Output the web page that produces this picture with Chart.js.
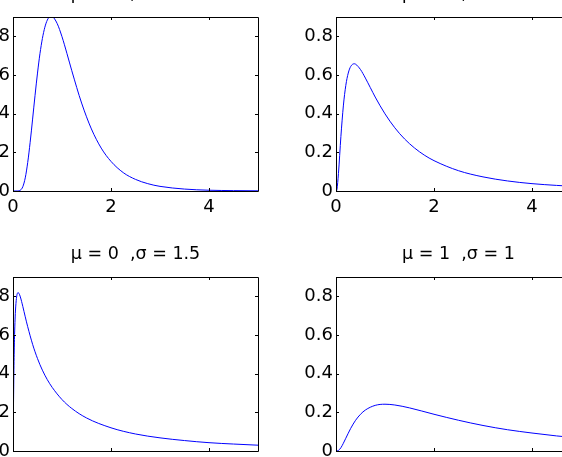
<!DOCTYPE html>
<html>
<head>
<meta charset="utf-8">
<script src="https://cdn.jsdelivr.net/npm/chart.js@4.4.1/dist/chart.umd.min.js"></script>
<style>
    html, body { margin: 0; padding: 0; width: 562px; height: 457px; overflow: hidden; background: #fff; }
    canvas { position: absolute; }
</style>
</head>
<body>
<canvas id="c1" width="365" height="249" style="left:-47px; top:-23px"></canvas>
<canvas id="c2" width="365" height="249" style="left:276px; top:-23px"></canvas>
<canvas id="c3" width="365" height="249" style="left:-47px; top:237px"></canvas>
<canvas id="c4" width="365" height="249" style="left:276px; top:237px"></canvas>
<script>
// lognormal pdf curves
var titles = ["\u03bc = 0  ,\u03c3 = 0.5", "\u03bc = 0  ,\u03c3 = 1", "\u03bc = 0  ,\u03c3 = 1.5", "\u03bc = 1  ,\u03c3 = 1"];

var x1 = [0, 0.1, 0.15, 0.2, 0.25, 0.3, 0.35, 0.4, 0.45, 0.5, 0.55, 0.6, 0.65, 0.7, 0.75, 0.78, 0.8, 0.9, 1.0, 1.1, 1.2, 1.4, 1.6, 1.8, 2.0, 2.25, 2.5, 2.75, 3.0, 3.5, 4.0, 4.5, 5.0];
var y1 = [0, 0.0002, 0.004, 0.022, 0.068, 0.147, 0.252, 0.372, 0.495, 0.610, 0.710, 0.789, 0.847, 0.884, 0.902, 0.904, 0.903, 0.867, 0.798, 0.712, 0.622, 0.455, 0.321, 0.222, 0.153, 0.095, 0.060, 0.038, 0.024, 0.010, 0.004, 0.002, 0.001];

var x2 = [0, 0.01, 0.02, 0.05, 0.1, 0.15, 0.2, 0.25, 0.3, 0.37, 0.4, 0.5, 0.6, 0.7, 0.8, 1.0, 1.2, 1.4, 1.6, 1.8, 2.0, 2.5, 3.0, 3.5, 4.0, 4.5, 5.0];
var y2 = [0, 0.001, 0.009, 0.090, 0.282, 0.440, 0.546, 0.610, 0.644, 0.658, 0.656, 0.628, 0.584, 0.535, 0.486, 0.399, 0.327, 0.269, 0.223, 0.186, 0.157, 0.105, 0.073, 0.052, 0.038, 0.029, 0.022];

var x3 = [0.01, 0.02, 0.03, 0.04, 0.05, 0.07, 0.1, 0.12, 0.15, 0.2, 0.25, 0.3, 0.4, 0.5, 0.6, 0.7, 0.8, 1.0, 1.2, 1.5, 2.0, 2.5, 3.0, 3.5, 4.0, 4.5, 5.0];
var y3 = [0.239, 0.443, 0.577, 0.665, 0.724, 0.789, 0.819, 0.816, 0.797, 0.748, 0.694, 0.643, 0.552, 0.478, 0.418, 0.369, 0.329, 0.266, 0.220, 0.171, 0.120, 0.088, 0.068, 0.054, 0.043, 0.036, 0.030];

var x4 = [0, 0.05, 0.1, 0.15, 0.2, 0.3, 0.4, 0.5, 0.6, 0.8, 1.0, 1.2, 1.5, 2.0, 2.5, 3.0, 3.5, 4.0, 4.5, 5.0];
var y4 = [0, 0.003, 0.017, 0.040, 0.066, 0.117, 0.159, 0.190, 0.212, 0.236, 0.242, 0.238, 0.223, 0.190, 0.159, 0.132, 0.110, 0.093, 0.078, 0.066];

var xTicks = [0, 2, 4];
var yTicks = [0, 0.2, 0.4, 0.6, 0.8];

var font = "'DejaVu Sans', 'Liberation Sans', Arial, sans-serif";

// matlab style box with inward ticks
var boxPlugin = {
    id: "box",
    afterDraw: function (chart) {
        var c = chart.ctx;
        var a = chart.chartArea;
        var sx = chart.scales.x, sy = chart.scales.y;
        c.save();
        c.strokeStyle = "#000";
        c.lineWidth = 1;
        c.beginPath();
        c.rect(a.left + 0.5, a.top + 0.5, a.right - a.left, a.bottom - a.top);
        xTicks.forEach(function (v) {
            var px = Math.round(sx.getPixelForValue(v)) + 0.5;
            c.moveTo(px, a.bottom); c.lineTo(px, a.bottom - 3);
            c.moveTo(px, a.top); c.lineTo(px, a.top + 3);
        });
        yTicks.forEach(function (v) {
            var py = Math.round(sy.getPixelForValue(v)) + 0.5;
            c.moveTo(a.left, py); c.lineTo(a.left + 3, py);
            c.moveTo(a.right, py); c.lineTo(a.right - 3, py);
        });
        c.stroke();
        c.restore();
    },
};

function tickLabel(v) {
    return String(Math.round(v * 10) / 10);
}

function makeChart(id, title, xs, ys) {
    var pts = xs.map(function (x, i) { return { x: x, y: ys[i] }; });
    return new Chart(document.getElementById(id).getContext("2d"), {
        type: "line",
        data: {
            datasets: [
                {
                    data: pts,
                    borderColor: "#0000ff",
                    borderWidth: 1,
                    pointRadius: 0,
                    fill: false,
                    cubicInterpolationMode: "monotone",
                },
            ],
        },
        options: {
            responsive: false,
            animation: false,
            devicePixelRatio: 1,
            layout: { padding: { top: 7, right: 60, left: 0, bottom: 0 } },
            plugins: {
                legend: { display: false },
                tooltip: { enabled: false },
                title: {
                    display: true,
                    fullSize: false,
                    text: title,
                    color: "#000",
                    font: { family: font, size: 17.5, weight: "normal", lineHeight: 1.2 },
                    padding: { top: 0, bottom: 12 },
                },
            },
            scales: {
                x: {
                    type: "linear",
                    min: 0,
                    max: 5,
                    grid: { display: false, drawTicks: false },
                    border: { display: false },
                    afterBuildTicks: function (s) { s.ticks = xTicks.map(function (v) { return { value: v }; }); },
                    afterFit: function (s) { s.height = 35; },
                    ticks: { color: "#000", padding: 6, maxRotation: 0, font: { family: font, size: 18 }, callback: tickLabel },
                },
                y: {
                    min: 0,
                    max: 0.9,
                    grid: { display: false, drawTicks: false },
                    border: { display: false },
                    afterBuildTicks: function (s) { s.ticks = yTicks.map(function (v) { return { value: v }; }); },
                    afterFit: function (s) { s.width = 60; },
                    ticks: { color: "#000", padding: 3, font: { family: font, size: 18 }, callback: tickLabel },
                },
            },
        },
        plugins: [boxPlugin],
    });
}

makeChart("c1", titles[0], x1, y1);
makeChart("c2", titles[1], x2, y2);
makeChart("c3", titles[2], x3, y3);
makeChart("c4", titles[3], x4, y4);
</script>
</body>
</html>
